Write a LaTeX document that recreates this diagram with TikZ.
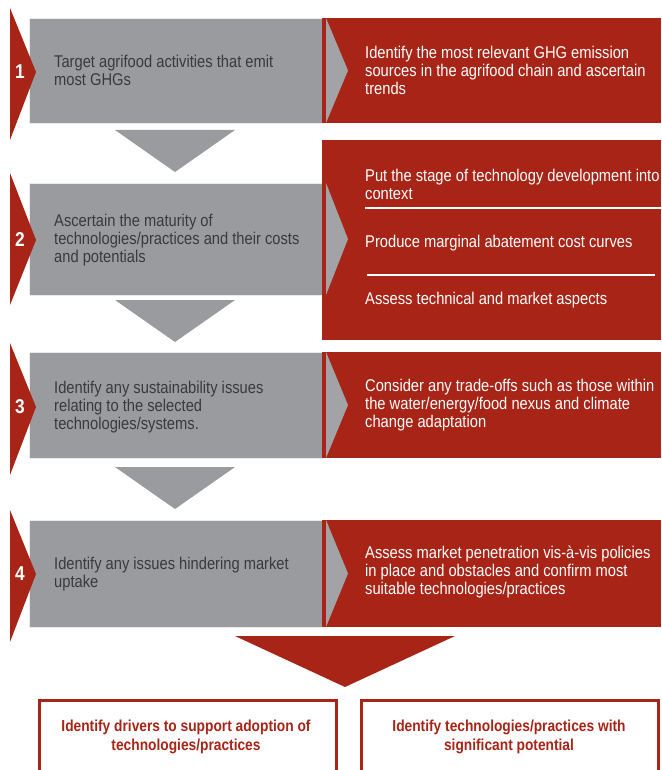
\documentclass[tikz,border=0pt]{standalone}
\usepackage{fontspec}
\setmainfont[FakeStretch=0.865]{Liberation Sans}
\definecolor{fred}{RGB}{167,36,22}
\definecolor{fgray}{RGB}{154,155,158}
\definecolor{fchev}{RGB}{162,163,166}
\definecolor{ftext}{RGB}{58,58,60}
\begin{document}
\begin{tikzpicture}[x=1pt,y=-1pt,
  graybox/.style={fill=fgray, draw=white!80!fgray, line width=0.8pt, minimum width=293pt, anchor=north west, inner sep=0pt},
  redbox/.style={fill=fred, minimum width=339pt, anchor=north west, inner sep=0pt},
  graytext/.style={anchor=west, align=left, text=ftext, inner sep=0pt, font=\fontsize{17}{18}\selectfont},
  redtext/.style={anchor=west, align=left, text=white, inner sep=0pt, font=\fontsize{17}{18}\selectfont},
  num/.style={text=white, inner sep=0pt, font=\fontsize{20}{20}\selectfont\bfseries},
  outbox/.style={draw=fred, line width=3pt, fill=white, minimum width=297pt, minimum height=90pt, anchor=north west, inner sep=0pt},
  outtext/.style={align=center, text=fred, inner sep=0pt, font=\fontsize{15.9}{19}\selectfont\bfseries},
  leftchev/.style={fill=fred},
  inchev/.style={fill=fchev},
  downarrow/.style={fill=fgray},
  divider/.style={draw=white, line width=1.8pt}
]
\useasboundingbox (0,0) rectangle (661,770);
\clip (0,0) rectangle (661,770);

% ---------- Row 1
\node[graybox, minimum height=105pt] (g1) at (29,18) {};
\node[redbox, minimum height=105pt] (r1) at (322,18) {};
\fill[inchev] (326,18) -- (348,70.5) -- (326,123) -- cycle;
\fill[leftchev] (10,8) -- (36,72) -- (10,140) -- cycle;
\node[num] (n1) at (20,72) {1};
\node[graytext] (t1) at (54,70) {Target agrifood activities that emit\\most GHGs};
\node[redtext] (s1) at (365,70) {Identify the most relevant GHG emission\\sources in the agrifood chain and ascertain\\trends};
\fill[downarrow] (115,130) -- (235,130) -- (175,172) -- cycle;

% ---------- Row 2
\node[graybox, minimum height=112pt] (g2) at (29,183) {};
\node[redbox, minimum height=200pt] (r2) at (322,140) {};
\fill[inchev] (326,183) -- (348,239) -- (326,295) -- cycle;
\fill[leftchev] (10,173) -- (36,240) -- (10,305) -- cycle;
\node[num] (n2) at (20,240) {2};
\node[graytext] (t2) at (54,240) {Ascertain the maturity of\\technologies/practices and their costs\\and potentials};
\node[redtext] (s2a) at (365,184) {Put the stage of technology development into\\context};
\coordinate (d1a) at (365,208);
\coordinate (d1b) at (661,208);
\draw[divider] (d1a) -- (d1b);
\node[redtext] (s2b) at (365,243) {Produce marginal abatement cost curves};
\coordinate (d2a) at (367,275);
\coordinate (d2b) at (655,275);
\draw[divider] (d2a) -- (d2b);
\node[redtext] (s2c) at (365,300) {Assess technical and market aspects};
\fill[downarrow] (115,300) -- (235,300) -- (175,342) -- cycle;

% ---------- Row 3
\node[graybox, minimum height=106pt] (g3) at (29,352) {};
\node[redbox, minimum height=106pt] (r3) at (322,352) {};
\fill[inchev] (326,352) -- (348,405) -- (326,458) -- cycle;
\fill[leftchev] (10,343) -- (36,407) -- (10,475) -- cycle;
\node[num] (n3) at (20,407) {3};
\node[graytext] (t3) at (54,407) {Identify any sustainability issues\\relating to the selected\\technologies/systems.};
\node[redtext] (s3) at (365,405) {Consider any trade-offs such as those within\\the water/energy/food nexus and climate\\change adaptation};
\fill[downarrow] (115,467) -- (235,467) -- (175,509) -- cycle;

% ---------- Row 4
\node[graybox, minimum height=107pt] (g4) at (29,520) {};
\node[redbox, minimum height=107pt] (r4) at (322,520) {};
\fill[inchev] (326,520) -- (348,573.5) -- (326,627) -- cycle;
\fill[leftchev] (10,510) -- (36,574) -- (10,642) -- cycle;
\node[num] (n4) at (20,574) {4};
\node[graytext] (t4) at (54,574) {Identify any issues hindering market\\uptake};
\node[redtext] (s4) at (365,572) {Assess market penetration vis-à-vis policies\\in place and obstacles and confirm most\\suitable technologies/practices};

% ---------- Red arrow and outcomes
\fill[fred] (235,636) -- (455,636) -- (345,687) -- cycle;
\node[outbox] (b1) at (37.5,698.5) {};
\node[outbox] (b2) at (359.5,698.5) {};
\node[outtext] (o1) at (186,737) {Identify drivers to support adoption of\\technologies/practices};
\node[outtext] (o2) at (509,737) {Identify technologies/practices with\\significant potential};
\end{tikzpicture}
\end{document}
